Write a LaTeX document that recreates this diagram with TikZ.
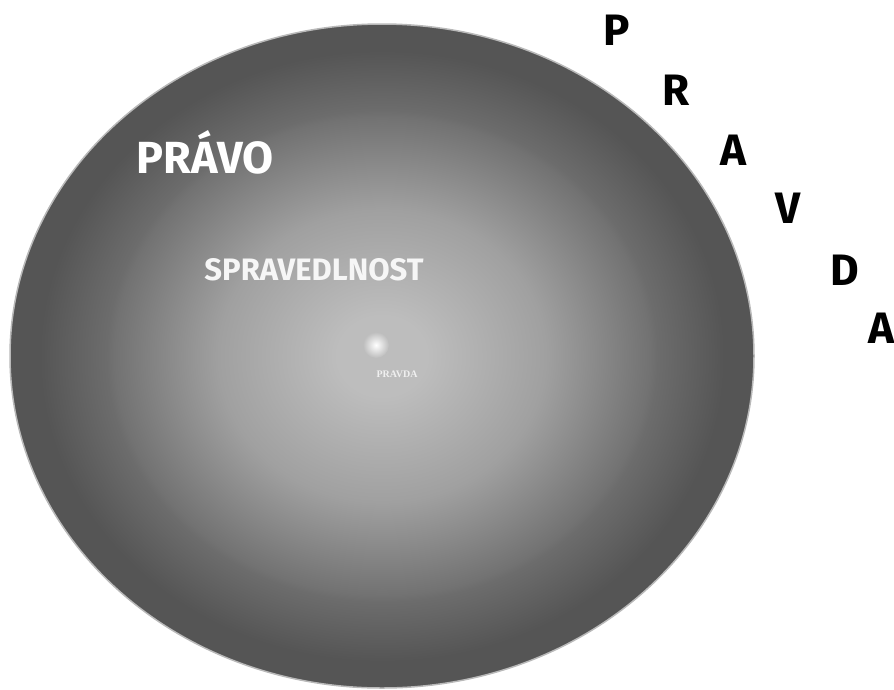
\documentclass[tikz,border=0pt]{standalone}
\usepackage{fontspec}
\newfontfamily\comicfont{Fira Sans}
\newfontfamily\smallserif{Liberation Serif}
\definecolor{ballcenter}{HTML}{BDBDBD}
\definecolor{ballmid}{HTML}{A0A0A0}
\definecolor{ballring}{HTML}{727272}
\definecolor{balledge}{HTML}{555555}
\pgfdeclareradialshading{lawball}{\pgfpoint{0bp}{0bp}}{%
  color(0bp)=(ballcenter); color(3bp)=(ballcenter); color(11bp)=(ballmid);
  color(18bp)=(ballring); color(18.5bp)=(ballring!95!black); color(23bp)=(balledge);
  color(50bp)=(balledge)}
\tikzset{
  biglabel/.style={font=\comicfont\bfseries\fontsize{45}{50}\selectfont, inner sep=0pt, anchor=base},
  letter/.style={font=\comicfont\bfseries\fontsize{44}{50}\selectfont, inner sep=0pt, anchor=base, text=black}
}
\begin{document}
\begin{tikzpicture}[x=1pt,y=-1pt]
	\useasboundingbox (0,0) rectangle (894,689);
	% the ball
	\fill[shading=lawball, draw=gray!55, line width=1.5pt] (382,356) ellipse [x radius=372pt, y radius=332pt];
	% labels inside
	\node[biglabel, text=white] (pravo) at (205,173) {PRÁVO};
	\node[biglabel, text=white!93!gray, font=\comicfont\bfseries\fontsize{31}{36}\selectfont] (spravedlnost) at (314,280) {SPRAVEDLNOST};
	\node[circle, minimum size=26pt, inner sep=0pt, shade, inner color=white, outer color=ballcenter] (glow) at (376,345) {};
	\node[font=\smallserif\bfseries\fontsize{10}{12}\selectfont, text=white!88!gray, inner sep=0pt, anchor=base] (pravdalabel) at (397,377) {PRAVDA};
	% letters round the ball
	\foreach \ch/\x/\y [count=\i] in {P/617/45, R/676/105, A/733/165, V/788/223, D/845/285, A/881/343}{
		\node[letter] (letter\i) at (\x,\y) {\ch};
	}
\end{tikzpicture}
\end{document}
